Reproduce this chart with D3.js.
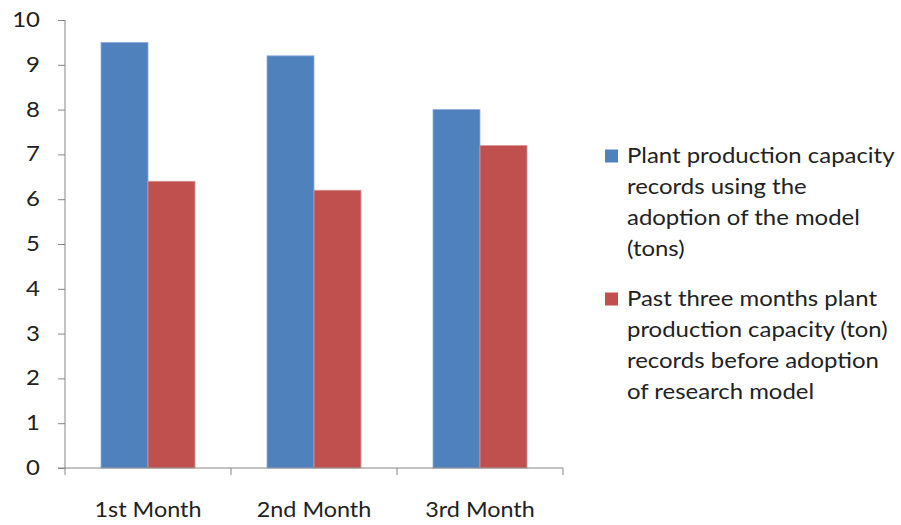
<!DOCTYPE html>
<html><head><meta charset="utf-8">
<script src="https://cdn.jsdelivr.net/npm/d3@7/dist/d3.min.js"></script>
<style>body{margin:0;background:#fff;} text{font-family:Lato, "Open Sans", sans-serif;fill:#222;}</style>
</head><body><svg id="c" width="901" height="525"></svg>
<script>
const categories = ["1st Month","2nd Month","3rd Month"];
const seriesNames = ["Plant production capacity records using the adoption of the model (tons)",
  "Past three months plant production capacity (ton) records before adoption of research model"];
const seriesA = [9.5, 9.2, 8.0];
const seriesB = [6.4, 6.2, 7.2];
const yTicks = [0,1,2,3,4,5,6,7,8,9,10];
const legendLines = [["Plant production capacity","records using the","adoption of the model","(tons)"],
  ["Past three months plant","production capacity (ton)","records before adoption","of research model"]];
const colors = ["#4F81BD","#C0504D"];
const strokes = ["#8EAADB","#D99694"];

const svg = d3.select("#c");
const L=65, R=563, T=20, B=468;
const SX = 1.14;
const x = d3.scaleBand().domain(categories).range([L,R]).paddingInner(0).paddingOuter(0);
const y = d3.scaleLinear().domain([0,10]).range([B,T]);
const groupW = 94;
const xs = d3.scaleBand().domain([0,1]).range([0,groupW]);

const data = [seriesA, seriesB];
data.forEach((vals,si)=>{
  svg.append("g").selectAll("rect").data(vals).join("rect")
    .attr("x",(d,i)=>x(categories[i])+(x.bandwidth()-groupW)/2+xs(si))
    .attr("width",xs.bandwidth())
    .attr("y",d=>y(d)).attr("height",d=>B-y(d))
    .attr("fill",colors[si]).attr("stroke",strokes[si]).attr("stroke-width",0.8);
});

function stext(g, px, py, t, size, anchor){
  g.append("g").attr("transform",`translate(${px},${py}) scale(${SX},1)`)
    .append("text").attr("font-size",size).attr("text-anchor",anchor||"start").text(t);
}

// y axis
const ya = svg.append("g").attr("transform",`translate(${L},0)`)
  .call(d3.axisLeft(y).tickValues(yTicks).tickSize(7).tickFormat(""));
ya.select(".domain").attr("stroke","#868686").attr("d",`M-0,${T}V${B}`);
ya.selectAll(".tick line").attr("stroke","#868686");
const yl = svg.append("g");
yTicks.forEach(v=>stext(yl, 40, y(v)+7, d3.format("d")(v), 21, "end"));

// x axis
const xa = svg.append("g").attr("transform",`translate(0,${B})`);
xa.append("line").attr("x1",L-7).attr("x2",R).attr("y1",0).attr("y2",0).attr("stroke","#868686");
const bounds = categories.map(c=>x(c)).concat([R]);
xa.selectAll("line.t").data(bounds).join("line").attr("class","t")
  .attr("x1",d=>d).attr("x2",d=>d).attr("y1",0).attr("y2",7).attr("stroke","#868686");
categories.forEach(c=>stext(xa, x(c)+x.bandwidth()/2, 49, c, 20.5, "middle"));

// legend
const lg = svg.append("g");
const legY = [156, 299];
const lhs = [31, 31];
legendLines.forEach((lines,si)=>{
  lg.append("rect").attr("x",605).attr("y",legY[si]-6.5).attr("width",13).attr("height",13).attr("fill",colors[si]);
  lines.forEach((t,li)=>stext(lg, 627, legY[si]+li*lhs[si]+7, t, 21));
});
</script></body></html>
